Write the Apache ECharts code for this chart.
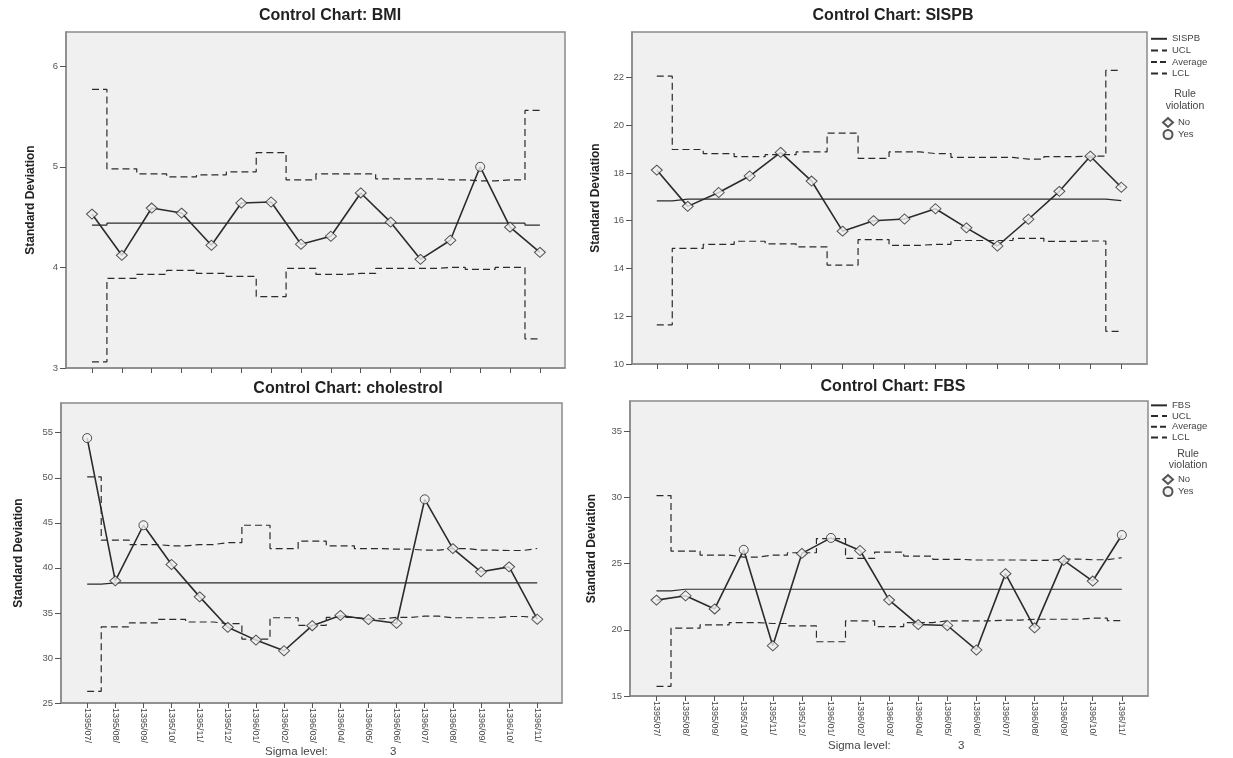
<!DOCTYPE html>
<html>
<head>
<meta charset="utf-8">
<script src="https://cdn.jsdelivr.net/npm/echarts@6/dist/echarts.min.js"></script>
<style>
html,body{margin:0;padding:0;background:#fff;}
#c{width:1233px;height:758px;}
</style>
</head>
<body>
<div id="c"></div>
<script>
// ---------- data ----------
const monthsTop = ['1395/07/','1395/08/','1395/09/','1395/10/','1395/11/','1395/12/','1396/01/','1396/02/',
  '1396/03/','1396/04/','1396/05/','1396/06/','1396/07/','1396/08/','1396/09/','1396/10/'];
const monthsBottom = ['1395/07/','1395/08/','1395/09/','1395/10/','1395/11/','1395/12/','1396/01/','1396/02/',
  '1396/03/','1396/04/','1396/05/','1396/06/','1396/07/','1396/08/','1396/09/','1396/10/','1396/11/'];

const bmiValues  = [4.53, 4.12, 4.59, 4.54, 4.22, 4.64, 4.65, 4.23, 4.31, 4.74, 4.45, 4.08, 4.27, 5.00, 4.40, 4.15];
const bmiUCL     = [5.77, 4.98, 4.93, 4.90, 4.92, 4.95, 5.14, 4.87, 4.93, 4.93, 4.88, 4.88, 4.87, 4.86, 4.87, 5.56];
const bmiLCL     = [3.06, 3.89, 3.93, 3.97, 3.94, 3.91, 3.71, 3.99, 3.93, 3.94, 3.99, 3.99, 4.00, 3.98, 4.00, 3.29];
const bmiAverage = [4.42, 4.44, 4.44, 4.44, 4.44, 4.44, 4.44, 4.44, 4.44, 4.44, 4.44, 4.44, 4.44, 4.44, 4.44, 4.42];
const bmiViolations = [13];
const bmiYTicks = [3, 4, 5, 6];

const sispbValues  = [18.12, 16.60, 17.18, 17.87, 18.86, 17.66, 15.56, 16.00, 16.07, 16.50, 15.70, 14.94, 16.06, 17.23, 18.70, 17.40];
const sispbUCL     = [22.05, 18.98, 18.81, 18.68, 18.77, 18.88, 19.67, 18.61, 18.88, 18.81, 18.65, 18.65, 18.58, 18.68, 18.70, 22.29];
const sispbLCL     = [11.64, 14.84, 15.01, 15.14, 15.03, 14.90, 14.14, 15.21, 14.97, 15.01, 15.17, 15.17, 15.26, 15.13, 15.15, 11.37];
const sispbAverage = [16.83, 16.90, 16.90, 16.90, 16.90, 16.90, 16.90, 16.90, 16.90, 16.90, 16.90, 16.90, 16.90, 16.90, 16.90, 16.84];
const sispbViolations = [];
const sispbYTicks = [10, 12, 14, 16, 18, 20, 22];

const cholValues  = [54.41, 38.56, 44.73, 40.37, 36.78, 33.40, 31.98, 30.80, 33.58, 34.72, 34.27, 33.85, 47.61, 42.14, 39.56, 40.11, 34.30];
const cholUCL     = [50.09, 43.07, 42.59, 42.44, 42.59, 42.81, 44.73, 42.14, 42.96, 42.44, 42.14, 42.07, 41.96, 42.14, 41.96, 41.93, 42.15];
const cholLCL     = [26.30, 33.44, 33.90, 34.28, 33.99, 33.80, 32.10, 34.46, 33.62, 34.50, 34.35, 34.50, 34.64, 34.46, 34.46, 34.60, 34.50];
const cholAverage = [38.19, 38.34, 38.34, 38.34, 38.34, 38.34, 38.34, 38.34, 38.34, 38.34, 38.34, 38.34, 38.34, 38.34, 38.34, 38.34, 38.34];
const cholViolations = [0, 2, 12];
const cholYTicks = [25, 30, 35, 40, 45, 50, 55];

const fbsValues  = [22.25, 22.58, 21.58, 26.05, 18.80, 25.78, 26.95, 26.00, 22.25, 20.40, 20.33, 18.48, 24.25, 20.15, 25.25, 23.69, 27.17];
const fbsUCL     = [30.15, 25.95, 25.65, 25.50, 25.65, 25.83, 26.90, 25.40, 25.88, 25.58, 25.33, 25.28, 25.28, 25.25, 25.35, 25.30, 25.45];
const fbsLCL     = [15.73, 20.13, 20.38, 20.55, 20.48, 20.30, 19.10, 20.68, 20.25, 20.55, 20.68, 20.68, 20.73, 20.80, 20.80, 20.88, 20.70];
const fbsAverage = [22.95, 23.07, 23.07, 23.07, 23.07, 23.07, 23.07, 23.07, 23.07, 23.07, 23.07, 23.07, 23.07, 23.07, 23.07, 23.07, 23.07];
const fbsViolations = [3, 6, 16];
const fbsYTicks = [15, 20, 25, 30, 35];

// ---------- layout / style ----------
const FONT = "'Liberation Sans', Arial, Helvetica, sans-serif";
const INK = '#2b2b2b';
const FRAME = '#8a8a8a';

const panels = [
  { key:'BMI', cats: monthsTop, vals: bmiValues, ucl: bmiUCL, lcl: bmiLCL, avg: bmiAverage, yes: bmiViolations, yTicks: bmiYTicks,
    box:{left:66, top:32, width:499, height:336}, xMin:-0.87, xMax:15.84, yMin:3, yMax:6.34, labels:false, nameGap:29,
    title:{x:330, y:8} },
  { key:'SISPB', cats: monthsTop, vals: sispbValues, ucl: sispbUCL, lcl: sispbLCL, avg: sispbAverage, yes: sispbViolations, yTicks: sispbYTicks,
    box:{left:632, top:32, width:515, height:332}, xMin:-0.8, xMax:15.83, yMin:10, yMax:23.9, labels:false, nameGap:30,
    title:{x:893, y:8} },
  { key:'cholestrol', cats: monthsBottom, vals: cholValues, ucl: cholUCL, lcl: cholLCL, avg: cholAverage, yes: cholViolations, yTicks: cholYTicks,
    box:{left:61, top:403, width:501, height:300}, xMin:-0.93, xMax:16.88, yMin:25, yMax:58.3, labels:true, nameGap:36,
    title:{x:348, y:381} },
  { key:'FBS', cats: monthsBottom, vals: fbsValues, ucl: fbsUCL, lcl: fbsLCL, avg: fbsAverage, yes: fbsViolations, yTicks: fbsYTicks,
    box:{left:630, top:401, width:518, height:295}, xMin:-0.91, xMax:16.9, yMin:15, yMax:37.3, labels:true, nameGap:32,
    title:{x:893, y:379} }
];

const grid = [], xAxis = [], yAxis = [], series = [], title = [];

panels.forEach((p, g) => {
  const idx = p.cats.map((c, i) => i);
  grid.push({ left: p.box.left, top: p.box.top, width: p.box.width, height: p.box.height,
    show: true, backgroundColor: '#f0f0f0', borderColor: FRAME, borderWidth: 1.5 });
  xAxis.push({ type: 'value', gridIndex: g, min: p.xMin, max: p.xMax,
    axisLine: { show: true, onZero: false, lineStyle: { color: FRAME, width: 1.5 } },
    axisTick: { show: true, length: 5, lineStyle: { color: '#555', width: 1 }, customValues: idx },
    axisLabel: { show: p.labels, customValues: idx, rotate: -90, margin: 5, fontSize: 9, color: '#444', fontFamily: FONT,
      formatter: v => p.cats[Math.round(v)] || '' },
    splitLine: { show: false } });
  yAxis.push({ type: 'value', gridIndex: g, min: p.yMin, max: p.yMax,
    axisLine: { show: true, onZero: false, lineStyle: { color: FRAME, width: 1.5 } },
    axisTick: { show: true, length: 6, lineStyle: { color: '#555', width: 1 }, customValues: p.yTicks },
    axisLabel: { customValues: p.yTicks, fontSize: 9.5, color: '#555', margin: 8, fontFamily: FONT },
    splitLine: { show: false },
    name: 'Standard Deviation', nameLocation: 'middle', nameGap: p.nameGap,
    nameTextStyle: { fontFamily: FONT, fontWeight: 'bold', fontSize: 12, color: '#222' } });
  title.push({ text: 'Control Chart: ' + p.key, left: p.title.x, top: p.title.y, textAlign: 'center', padding: 0,
    textStyle: { fontFamily: FONT, fontWeight: 'bold', fontSize: 16, color: '#222' } });

  const pts = arr => arr.map((v, i) => [i, v]);
  const stepLine = (name, arr, dashed) => ({
    type: 'line', name, xAxisIndex: g, yAxisIndex: g, data: pts(arr), step: 'middle',
    symbol: 'none', silent: true, z: 2, animation: false,
    itemStyle: { color: INK },
    lineStyle: { color: INK, width: 1.2, type: dashed ? [7, 4] : 'solid' } });
  series.push(stepLine('UCL', p.ucl, true));
  series.push(stepLine('LCL', p.lcl, true));
  series.push(stepLine('Average', p.avg, false));
  series.push({ type: 'line', name: p.key, xAxisIndex: g, yAxisIndex: g, data: pts(p.vals),
    symbol: 'none', z: 3, animation: false, itemStyle: { color: INK }, lineStyle: { color: INK, width: 1.6 } });
  series.push({ type: 'scatter', name: 'No', xAxisIndex: g, yAxisIndex: g, z: 4, animation: false,
    data: pts(p.vals).filter(d => !p.yes.includes(d[0])),
    symbol: 'diamond', symbolSize: [11, 10],
    itemStyle: { color: '#f0f0f0', borderColor: INK, borderWidth: 1 } });
  series.push({ type: 'scatter', name: 'Yes', xAxisIndex: g, yAxisIndex: g, z: 4, animation: false,
    data: pts(p.vals).filter(d => p.yes.includes(d[0])),
    symbol: 'circle', symbolSize: 9,
    itemStyle: { color: '#f0f0f0', borderColor: INK, borderWidth: 1 } });
});

const legTxt = { fontFamily: FONT, fontSize: 9.5, color: '#444' };
function lineLegend(key, top, rowH) {
  return { data: [{ name: key }, { name: 'UCL' }, { name: 'Average', lineStyle: { type: [6, 3] } }, { name: 'LCL' }],
    orient: 'vertical', left: 1150, top: top, itemWidth: 16, itemHeight: 8, itemGap: 0, padding: 0,
    selectedMode: false,
    itemStyle: { color: 'rgba(0,0,0,0)', borderWidth: 0, opacity: 0 },
    lineStyle: { color: INK },
    textStyle: Object.assign({ lineHeight: rowH }, legTxt) };
}
function ruleLegend(top) {
  return { data: ['No', 'Yes'], orient: 'vertical', left: 1162, top: top, itemWidth: 10, itemHeight: 9, itemGap: 1,
    padding: 0, selectedMode: false, textStyle: Object.assign({ lineHeight: 11 }, legTxt) };
}
const legend = [lineLegend('SISPB', 33, 11.6), ruleLegend(117), lineLegend('FBS', 400, 10.7), ruleLegend(474)];

const txt = (x, y, s, size) => ({ type: 'text', left: x, top: y, silent: true,
  style: { text: s, fill: '#444', font: size + 'px ' + FONT } });

const graphic = [
  { type: 'text', x: 1185, y: 88, silent: true, style: { text: 'Rule\nviolation', fill: '#444', font: '10.5px ' + FONT, textAlign: 'center', lineHeight: 12 } },
  { type: 'text', x: 1188, y: 449, silent: true, style: { text: 'Rule\nviolation', fill: '#444', font: '10.5px ' + FONT, textAlign: 'center', lineHeight: 11 } },
  txt(265, 746, 'Sigma level:', 11.5), txt(390, 746, '3', 11.5),
  txt(828, 740, 'Sigma level:', 11.5), txt(958, 740, '3', 11.5)
];

const chart = echarts.init(document.getElementById('c'));
chart.setOption({ backgroundColor: '#fff', animation: false, title, grid, xAxis, yAxis, series, legend, graphic });
</script>
</body>
</html>
